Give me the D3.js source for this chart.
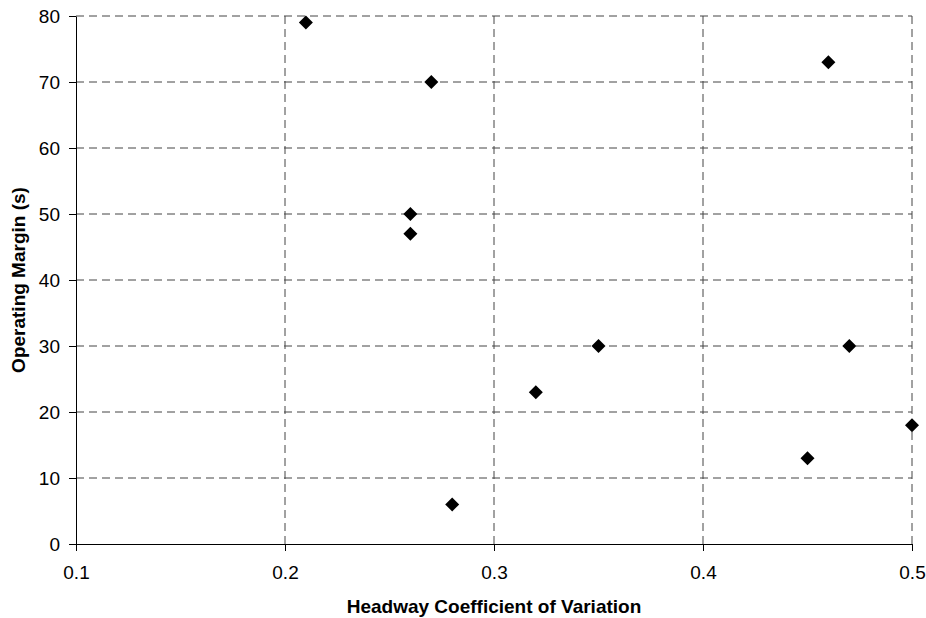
<!DOCTYPE html>
<html>
<head>
<meta charset="utf-8">
<script src="https://cdn.jsdelivr.net/npm/d3@7"></script>
<style>
  body { margin: 0; background: #fff; }
  text { font-family: Arial, "Liberation Sans", sans-serif; }
</style>
</head>
<body>
<div id="chart"></div>
<script>
// Data
const cov = [0.21, 0.27, 0.26, 0.26, 0.28, 0.32, 0.35, 0.46, 0.47, 0.45, 0.50];
const margin_s = [79, 70, 50, 47, 6, 23, 30, 73, 30, 13, 18];
const xTicks = [0.1, 0.2, 0.3, 0.4, 0.5];
const yTicks = [0, 10, 20, 30, 40, 50, 60, 70, 80];

const W = 926, H = 618;
const plot = {left: 76, right: 912, top: 16, bottom: 544};

const svg = d3.select("#chart")
  .append("svg")
  .attr("width", W)
  .attr("height", H);

const x = d3.scaleLinear().domain([0.1, 0.5]).range([plot.left, plot.right]);
const y = d3.scaleLinear().domain([0, 80]).range([plot.bottom, plot.top]);

// Gridlines (dashed)
svg.append("g")
  .selectAll("line")
  .data(yTicks.filter(d => d > 0))
  .join("line")
  .attr("x1", plot.left).attr("x2", plot.right)
  .attr("y1", d => y(d)).attr("y2", d => y(d))
  .attr("stroke", "#444")
  .attr("stroke-dasharray", "8,5");

svg.append("g")
  .selectAll("line")
  .data(xTicks.filter(d => d > 0.1))
  .join("line")
  .attr("x1", d => x(d)).attr("x2", d => x(d))
  .attr("y1", plot.top).attr("y2", plot.bottom)
  .attr("stroke", "#444")
  .attr("stroke-dasharray", "8,5");

// Axes
svg.append("g")
  .attr("transform", `translate(0,${plot.bottom})`)
  .call(d3.axisBottom(x).tickValues(xTicks).tickFormat(d3.format(".1f")).tickSize(7).tickSizeOuter(0).tickPadding(15))
  .call(g => g.selectAll("text").style("font-size", "19px").attr("fill", "#000"))
  .call(g => g.selectAll("line, path").attr("stroke", "#000"));

svg.append("g")
  .attr("transform", `translate(${plot.left},0)`)
  .call(d3.axisLeft(y).tickValues(yTicks).tickSize(7).tickSizeOuter(0).tickPadding(9))
  .call(g => g.selectAll("text").style("font-size", "19px").attr("fill", "#000"))
  .call(g => g.selectAll("line, path").attr("stroke", "#000"));

// Points (diamonds)
const pts = cov.map((c, i) => ({c, m: margin_s[i]}));
svg.append("g")
  .selectAll("path")
  .data(pts)
  .join("path")
  .attr("d", d3.symbol(d3.symbolSquare, 98))
  .attr("transform", d => `translate(${x(d.c)},${y(d.m)}) rotate(45)`)
  .attr("fill", "#000");

// Axis titles
svg.append("text")
  .attr("x", (plot.left + plot.right) / 2)
  .attr("y", 613)
  .attr("text-anchor", "middle")
  .style("font-size", "19px")
  .style("font-weight", "bold")
  .text("Headway Coefficient of Variation");

svg.append("text")
  .attr("transform", `translate(25,${(plot.top + plot.bottom) / 2}) rotate(-90)`)
  .attr("text-anchor", "middle")
  .style("font-size", "19px")
  .style("font-weight", "bold")
  .text("Operating Margin (s)");
</script>
</body>
</html>
